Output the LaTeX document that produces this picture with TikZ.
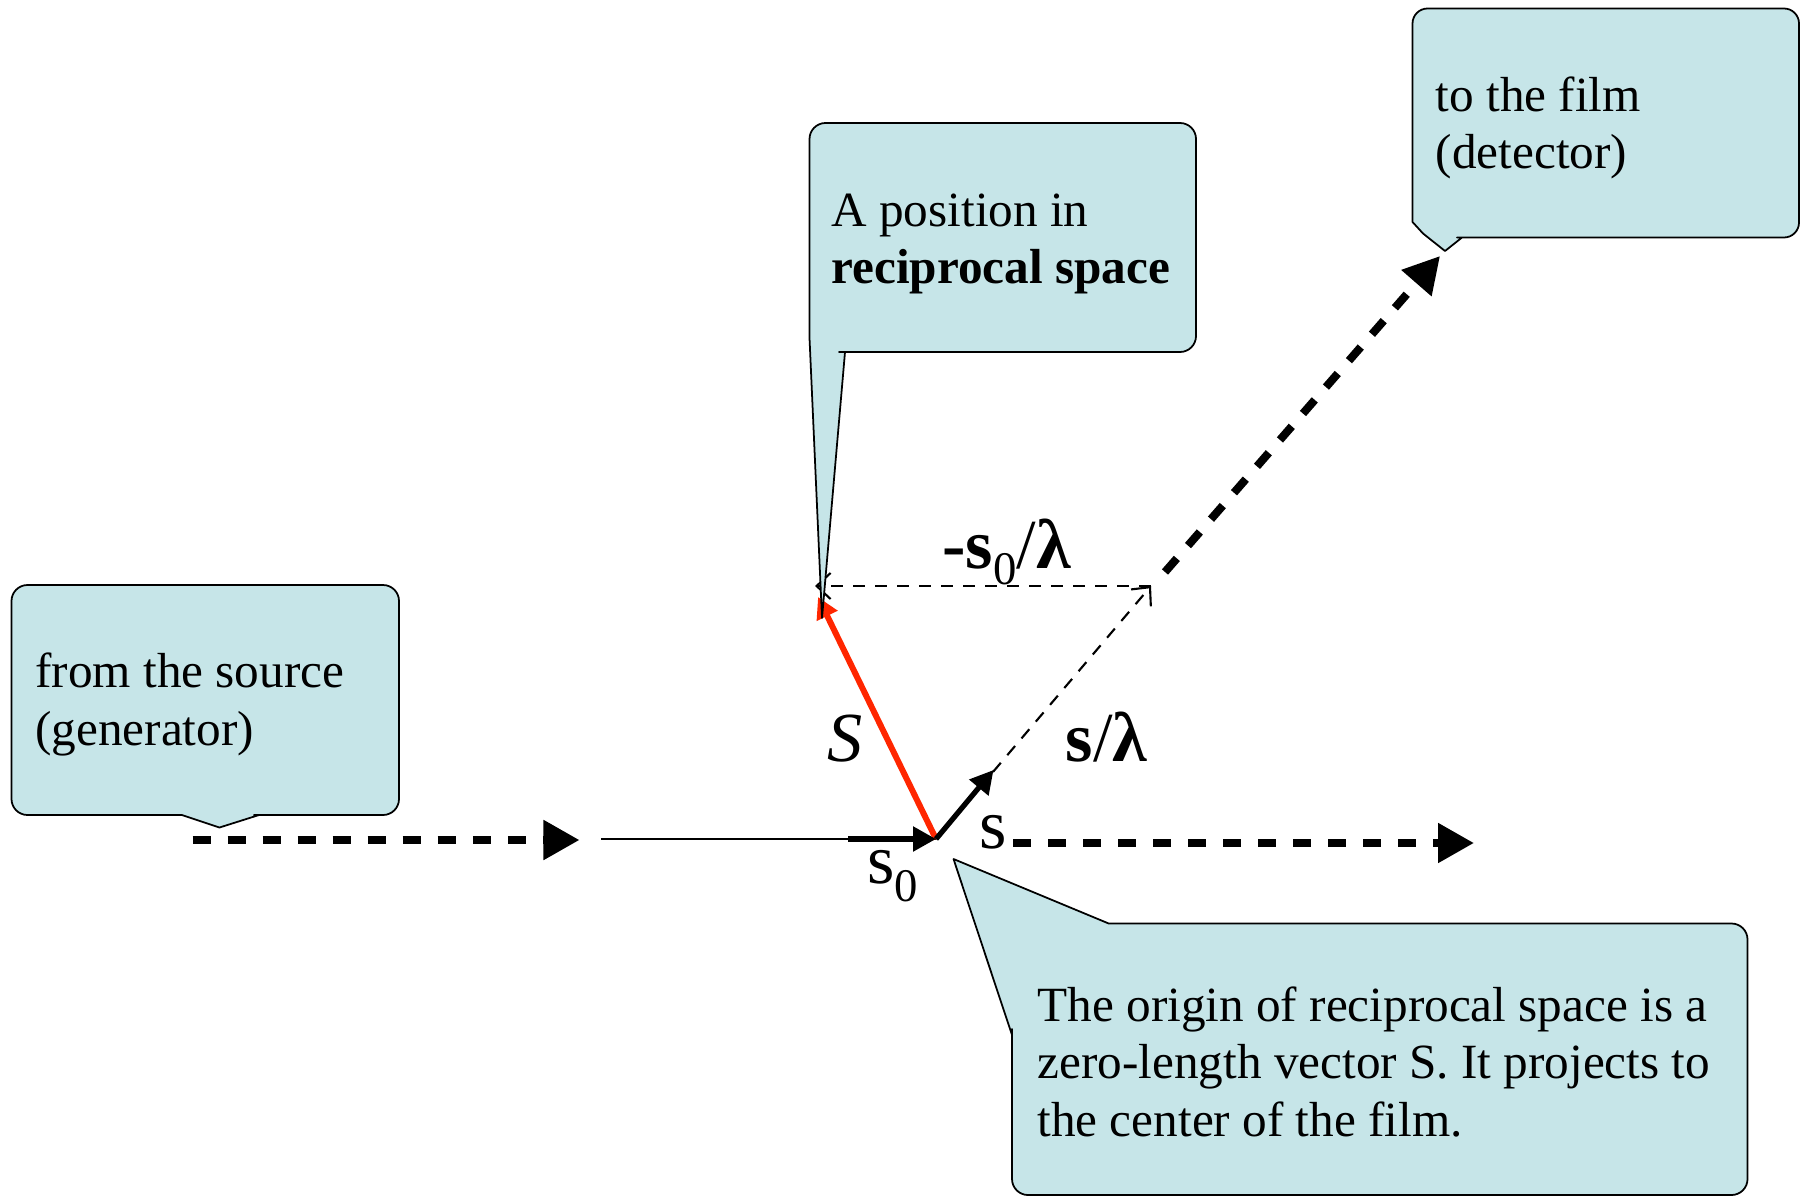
\documentclass[tikz,border=0pt]{standalone}
\usepackage{fontspec}
\setmainfont{Liberation Serif}
\usetikzlibrary{arrows.meta}
\definecolor{boxfill}{RGB}{198,229,232}
\definecolor{vecred}{RGB}{255,38,0}
\tikzset{
  callout/.style={fill=boxfill, draw=black, line width=0.5pt, line join=round},
  boxtext/.style={anchor=base west, inner sep=0pt, align=left, font=\fontsize{14}{16.35}\selectfont},
  lbl/.style={anchor=base west, inner sep=0pt, font=\fontsize{20}{24}\selectfont},
  beam/.style={line width=2.3pt, dash pattern=on 0.18cm off 0.17cm, -{Triangle[length=0.36cm,width=0.38cm]}},
  thinvec/.style={line width=0.6pt, dash pattern=on 0.12cm off 0.10cm, -{Straight Barb[length=0.14cm,width=0.26cm]}},
  vec/.style={line width=1.5pt, -{Triangle[length=0.23cm,width=0.24cm]}},
  redvec/.style={vecred, line width=1.7pt, -{Triangle[length=0.21cm,width=0.22cm]}},
}
\begin{document}
\begin{tikzpicture}[x=0.01cm,y=-0.01cm]
\useasboundingbox (0,0) rectangle (1807,1197);
% key points
\coordinate (O) at (936,839);
\coordinate (P) at (1151,586);
\coordinate (R) at (818,597);
\coordinate (Sa) at (993.5,770);
\coordinate (Q) at (815,586);
% beams
\coordinate (srcA) at (192.6,840);
\coordinate (srcB) at (579.5,840);
\draw[beam] (srcA) -- (srcB);
\coordinate (inA) at (601,839);
\draw[line width=0.5pt] (inA) -- (O);
\coordinate (outA) at (1013,843);
\coordinate (outB) at (1474,843);
\draw[beam] (outA) -- (outB);
\coordinate (difA) at (1165,572);
\coordinate (difB) at (1440,256);
\draw[beam] (difA) -- (difB);
% vectors
\draw[thinvec] (O) -- (P);
\draw[thinvec] (P) -- (Q);
\draw[redvec] (O) -- (R);
\coordinate (s0A) at (848,839);
\draw[vec] (s0A) -- (O);
\draw[vec] (O) -- (Sa);
% labels
\node[lbl] (ls0) at (866.7,883) {s\raisebox{-5.3pt}{\fontsize{13.3}{16}\selectfont 0}};
\node[lbl] (ls) at (978.3,848) {s};
\node[lbl] (lms0) at (941.7,568.3) {\textbf{-s}\raisebox{-4.7pt}{\fontsize{13.3}{16}\selectfont 0}/\textbf{λ}};
\node[lbl] (lsl) at (1065,761.7) {\textbf{s}/\textbf{λ}};
\node[lbl] (lS) at (826.7,761.7) {\textit{S}};
% callouts
\draw[callout] (200,585) [rounded corners=0.16cm] -- (399,585) -- (399,815) -- (270,815)
  [sharp corners] -- (259,815) -- (219.5,827.5) -- (182,815) -- (170,815)
  [rounded corners=0.16cm] -- (11.5,815) -- (11.5,585) -- cycle;
\node[boxtext] (src) at (34.6,745) {from the source\\(generator)};
\draw[callout] (1000,123) [rounded corners=0.16cm] -- (1196,123) -- (1196,352) -- (855,352)
  [sharp corners] -- (845,352) -- (822,618) -- (809.5,338) -- (809.5,328)
  [rounded corners=0.16cm] -- (809.5,123) -- cycle;
\node[boxtext] (pos) at (830.7,283.5) {A position in\\\textbf{reciprocal space}};
\draw[callout] (1600,8.5) [rounded corners=0.15cm] -- (1799,8.5) -- (1799,237.5) -- (1472,237.5)
  [sharp corners] -- (1462,237.5) -- (1445,251) -- (1423,233.5) -- (1412.5,222) -- (1412.5,212)
  [rounded corners=0.15cm] -- (1412.5,8.5) -- cycle;
\node[boxtext] (film) at (1435,169) {to the film\\(detector)};
\draw[callout] (1400,923.5) [rounded corners=0.16cm] -- (1747.5,923.5) -- (1747.5,1195) -- (1012,1195) -- (1012,1045)
  [sharp corners] -- (1012,1035) -- (953.5,859) -- (1108.7,923.5) -- (1118,923.5)
  [rounded corners=0.16cm] -- cycle;
\node[boxtext] (orig) at (1036.8,1136) {The origin of reciprocal space is a\\zero-length vector S. It projects to\\the center of the film.};
\end{tikzpicture}
\end{document}
